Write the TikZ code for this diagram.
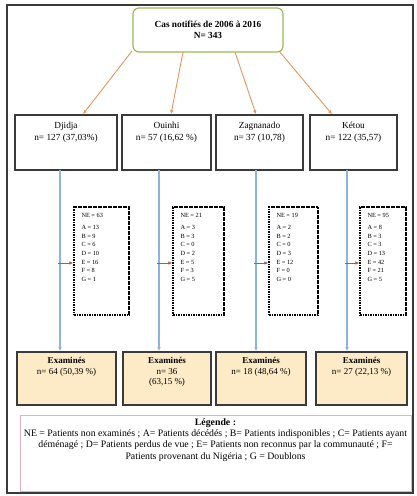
\documentclass[tikz,border=0pt]{standalone}
\usepackage{fontspec}
\setmainfont{Liberation Serif}
\usetikzlibrary{arrows.meta,calc}
\definecolor{topgreen}{HTML}{9BBB59}
\definecolor{orarrow}{HTML}{E8955A}
\definecolor{bluearrow}{HTML}{8DB3E2}
\definecolor{redarrow}{HTML}{C0504D}
\definecolor{exfill}{HTML}{FCEBC6}
\definecolor{legpink}{HTML}{E3B2C4}
\definecolor{boxgray}{HTML}{3A3A3A}
\tikzset{
  topbox/.style={draw=topgreen,line width=1.2pt,rounded corners=6pt,fill=white,minimum width=150pt,minimum height=44pt,align=center,font=\fontsize{9.3}{10.5}\selectfont\bfseries},
  regbox/.style={draw=boxgray,line width=1.6pt,fill=white,minimum height=55pt},
  nebox/.style={draw=black,line width=1.4pt,dash pattern=on 1.6pt off 0.9pt,minimum height=108pt},
  exbox/.style={draw=boxgray,line width=1.6pt,fill=exfill,minimum height=53pt},
  legbox/.style={draw=legpink,line width=0.9pt,minimum width=391pt,minimum height=76pt},
  regtxt/.style={anchor=north,align=center,font=\fontsize{9.3}{12}\selectfont,inner sep=0pt},
  extxt/.style={anchor=north,align=center,font=\fontsize{9}{10.5}\selectfont,inner sep=0pt},
  netxt/.style={anchor=north west,align=left,font=\fontsize{6.3}{8.7}\selectfont,inner sep=0pt},
  orar/.style={draw=orarrow,line width=0.9pt,-{Latex[length=4pt,width=3.5pt]}},
  bluear/.style={draw=bluearrow,line width=1.1pt,-{Latex[length=4pt,width=3.5pt]}},
  redar/.style={draw=redarrow,line width=0.9pt,-{Latex[length=4pt,width=3.5pt]}},
}
\begin{document}
\begin{tikzpicture}[x=1pt,y=-1pt]
\useasboundingbox (0,0) rectangle (416,496);
\fill[white] (0,0) rectangle (416,496);
\draw[boxgray,line width=1.3pt] (7,5) rectangle (413,493);

% top box
\node[topbox] (top) at (208,30) {Cas notifiés de 2006 à 2016\\ N= 343};

% region boxes
\node[regbox,minimum width=102pt] (r1) at (66,142.5) {};
\node[regbox,minimum width=89pt] (r2) at (166.5,142.5) {};
\node[regbox,minimum width=87pt] (r3) at (259.5,142.5) {};
\node[regbox,minimum width=87pt] (r4) at (353.5,142.5) {};
\node[regtxt] (r1t) at ($(r1.north)+(0,8)$) {Djidja\\ n= 127 (37,03\%)};
\node[regtxt] (r2t) at ($(r2.north)+(0,8)$) {Ouinhi\\ n= 57 (16,62 \%)};
\node[regtxt] (r3t) at ($(r3.north)+(0,8)$) {Zagnanado\\ n= 37 (10,78)};
\node[regtxt] (r4t) at ($(r4.north)+(0,8)$) {Kétou\\ n= 122 (35,57)};

% orange arrows
\coordinate (s1) at (132,51);
\coordinate (s2) at (183,52);
\coordinate (s3) at (235,52);
\coordinate (s4) at (279,51);
\draw[orar] (s1) -- (r1.north -| 83,0);
\draw[orar] (s2) -- (r2.north -| 171,0);
\draw[orar] (s3) -- (r3.north -| 256,0);
\draw[orar] (s4) -- (r4.north -| 332,0);

% NE dashed boxes
\node[nebox,minimum width=55pt] (ne1) at (101.5,261) {};
\node[nebox,minimum width=51pt] (ne2) at (198.5,261) {};
\node[nebox,minimum width=49pt] (ne3) at (293.5,261) {};
\node[nebox,minimum width=46pt] (ne4) at (383,261) {};
\node[netxt] (ne1t) at ($(ne1.north west)+(8,7)$) {NE = 63\\[3pt] A = 13\\ B = 9\\ C = 6\\ D = 10\\ E = 16\\ F = 8\\ G = 1};
\node[netxt] (ne2t) at ($(ne2.north west)+(8,7)$) {NE = 21\\[3pt] A = 3\\ B = 3\\ C = 0\\ D = 2\\ E = 5\\ F = 3\\ G = 5};
\node[netxt] (ne3t) at ($(ne3.north west)+(8,7)$) {NE = 19\\[3pt] A = 2\\ B = 2\\ C = 0\\ D = 3\\ E = 12\\ F = 0\\ G = 0};
\node[netxt] (ne4t) at ($(ne4.north west)+(8,7)$) {NE = 95\\[3pt] A = 8\\ B = 3\\ C = 3\\ D = 13\\ E = 42\\ F = 21\\ G = 5};

% examined boxes
\node[exbox,minimum width=99pt] (e1) at (66.5,378.5) {};
\node[exbox,minimum width=88pt] (e2) at (167,378.5) {};
\node[exbox,minimum width=90pt] (e3) at (261,378.5) {};
\node[exbox,minimum width=91pt] (e4) at (361.5,378.5) {};
\node[extxt] (e1t) at ($(e1.north)+(0,6)$) {\textbf{Examinés}\\ n= 64 (50,39 \%)};
\node[extxt] (e2t) at ($(e2.north)+(0,6)$) {\textbf{Examinés}\\ n= 36\\ (63,15 \%)};
\node[extxt] (e3t) at ($(e3.north)+(0,6)$) {\textbf{Examinés}\\ n= 18 (48,64 \%)};
\node[extxt] (e4t) at ($(e4.north)+(0,6)$) {\textbf{Examinés}\\ n= 27 (22,13 \%)};

% blue lines
\coordinate (b1) at (60,170);
\coordinate (b2) at (159,170);
\coordinate (b3) at (256,170);
\coordinate (b4) at (347,170);
\draw[bluear] (b1) -- (b1 |- e1.north);
\draw[bluear] (b2) -- (b2 |- e2.north);
\draw[bluear] (b3) -- (b3 |- e3.north);
\draw[bluear] (b4) -- (b4 |- e4.north);

% red arrows
\draw[redar] ($(b1 |- ne1.west)+(-2,2)$) -- ($(ne1.west)+(0,2)$);
\draw[redar] ($(b2 |- ne2.west)+(-2,2)$) -- ($(ne2.west)+(0,2)$);
\draw[redar] ($(b3 |- ne3.west)+(-2,2)$) -- ($(ne3.west)+(0,2)$);
\draw[redar] ($(b4 |- ne4.west)+(-2,2)$) -- ($(ne4.west)+(0,2)$);

% legend
\node[legbox] (leg) at (215.5,453) {};
\node[anchor=north,align=center,inner sep=0pt,font=\fontsize{9.8}{11.2}\selectfont] (legt) at ($(leg.north)+(0,4)$) {\textbf{Légende :}\\
NE = Patients non examinés ; A= Patients décédés ; B= Patients indisponibles ; C= Patients ayant\\
déménagé ; D= Patients perdus de vue ; E= Patients non reconnus par la communauté ; F=\\
Patients provenant du Nigéria ; G = Doublons};
\end{tikzpicture}
\end{document}
